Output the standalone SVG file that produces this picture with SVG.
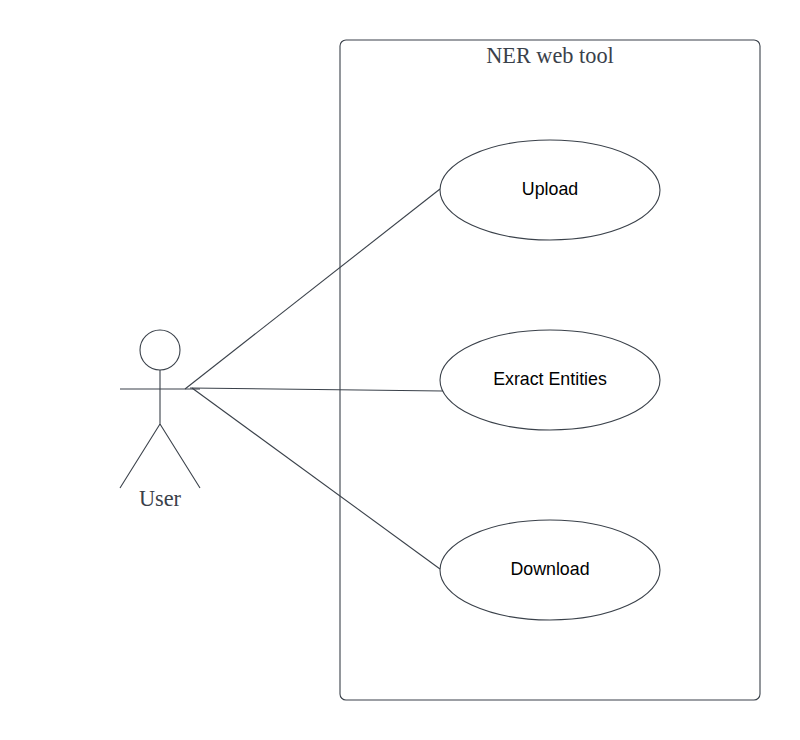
<svg xmlns="http://www.w3.org/2000/svg" width="800" height="740" viewBox="0 0 800 740">
<style>
.s{fill:none;stroke:#3a414a;stroke-width:1.1}
.u{fill:#fff;stroke:#3a414a;stroke-width:1.1}
.t{font-family:"Liberation Serif",serif;font-size:22.3px;fill:#3a414a;text-anchor:middle}
.l{font-family:"Liberation Sans",Arial,sans-serif;font-size:17.8px;fill:#000;text-anchor:middle}
</style>
<rect width="800" height="740" fill="#fff"/>
<g id="system">
<rect class="s" x="340" y="40" width="420" height="660" rx="6" ry="6"/>
<text class="t" x="550" y="62.500">NER web tool</text>
</g>
<g id="connectors">
<path class="s" d="M185 389L440 189"/>
<path class="s" d="M190 388L443 391"/>
<path class="s" d="M192 388L440 569"/>
</g>
<g id="actor-user">
<circle class="s" cx="160" cy="350" r="20"/>
<path class="s" d="M160 370V424M120 389H200M160 424L120 488M160 424L200 488"/>
<text class="t" x="160" y="506">User</text>
</g>
<g id="uc-upload">
<ellipse class="u" cx="550" cy="190" rx="110" ry="50"/>
<text class="l" x="550" y="195">Upload</text>
</g>
<g id="uc-extract">
<ellipse class="u" cx="550" cy="380" rx="110" ry="50"/>
<text class="l" x="550" y="385">Exract Entities</text>
</g>
<g id="uc-download">
<ellipse class="u" cx="550" cy="570" rx="110" ry="50"/>
<text class="l" x="550" y="575">Download</text>
</g>
</svg>
